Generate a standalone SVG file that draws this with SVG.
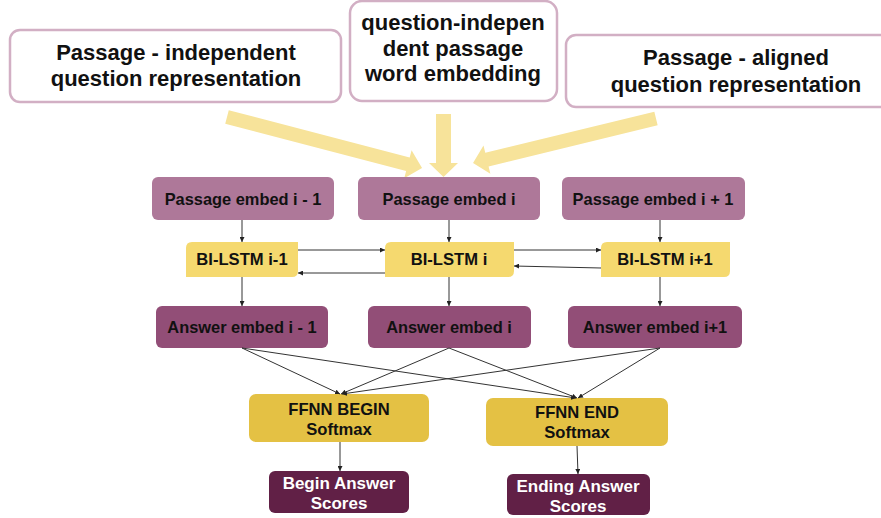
<svg xmlns="http://www.w3.org/2000/svg" width="881" height="518" viewBox="0 0 881 518">
<defs>
<marker id="ah" viewBox="0 0 10 10" refX="10" refY="5" markerWidth="5" markerHeight="5" orient="auto" markerUnits="userSpaceOnUse">
<path d="M0,0 L10,5 L0,10 Z" fill="#222"/>
</marker>
<style>
.top{fill:#fff;stroke:#d2afc4;stroke-width:2.5}
.pe{fill:#ae7899}
.bl{fill:#f5d96f}
.ae{fill:#924e77}
.ff{fill:#e4c144}
.sc{fill:#612046}
.t{font-family:"Liberation Sans",Arial,sans-serif;font-weight:bold;text-anchor:middle;fill:#111}
.tw{fill:#fff}
.big{font-size:22px}
.mid{font-size:16.4px}
.bi{font-size:16.6px}
.scs{font-size:17px}
.conn line{stroke:#333;stroke-width:1}
.ya{fill:#f7e39a}
</style>
</defs>
<rect width="881" height="518" fill="#fff"/>

<g id="top1">
<rect class="top" x="10" y="30" width="331" height="72" rx="10"/>
<text class="t big" x="176" y="60">Passage - independent</text>
<text class="t big" x="176" y="86">question representation</text>
</g>
<g id="top2">
<rect class="top" x="350" y="1" width="207" height="100" rx="12"/>
<text class="t big" x="453" y="30">question-indepen</text>
<text class="t big" x="453" y="56">dent passage</text>
<text class="t big" x="453" y="81">word embedding</text>
</g>
<g id="top3">
<rect class="top" x="566" y="35" width="330" height="72" rx="10"/>
<text class="t big" x="736" y="65">Passage - aligned</text>
<text class="t big" x="736" y="92">question representation</text>
</g>

<g id="bigarrows">
<path class="ya" transform="translate(227,117) rotate(14.66)" d="M0,-7 L187,-7 L187,-14.5 L201.6,0 L187,14.5 L187,7 L0,7 Z"/>
<path class="ya" transform="translate(443.5,114) rotate(90)" d="M0,-7.5 L49,-7.5 L49,-14.5 L63,0 L49,14.5 L49,7.5 L0,7.5 Z"/>
<path class="ya" transform="translate(656,118.5) rotate(166.33)" d="M0,-7 L174,-7 L174,-14.5 L188.3,0 L174,14.5 L174,7 L0,7 Z"/>
</g>

<g id="pe1"><rect class="pe" x="152" y="177" width="182" height="43" rx="6"/><text class="t mid" x="243" y="205">Passage embed i - 1</text></g>
<g id="pe2"><rect class="pe" x="358" y="177" width="182" height="43" rx="6"/><text class="t mid" x="449" y="205">Passage embed i</text></g>
<g id="pe3"><rect class="pe" x="562" y="177" width="183" height="43" rx="6"/><text class="t mid" x="653" y="205">Passage embed i + 1</text></g>

<g id="bl1"><path class="bl" d="M192,242 L298,242 L298,271 Q298,277 292,277 L186,277 L186,248 Q186,242 192,242 Z"/><text class="t bi" x="242" y="265">BI-LSTM i-1</text></g>
<g id="bl2"><path class="bl" d="M391,242 L514,242 L514,271 Q514,277 508,277 L385,277 L385,248 Q385,242 391,242 Z"/><text class="t bi" x="449" y="265">BI-LSTM i</text></g>
<g id="bl3"><path class="bl" d="M607,242 L730,242 L730,271 Q730,277 724,277 L601,277 L601,248 Q601,242 607,242 Z"/><text class="t bi" x="665" y="265">BI-LSTM i+1</text></g>

<g id="ae1"><rect class="ae" x="156" y="306" width="172" height="42" rx="6"/><text class="t mid" x="242" y="333">Answer embed i - 1</text></g>
<g id="ae2"><rect class="ae" x="368" y="306" width="163" height="42" rx="6"/><text class="t mid" x="449" y="333">Answer embed i</text></g>
<g id="ae3"><rect class="ae" x="568" y="306" width="174" height="42" rx="6"/><text class="t mid" x="655" y="333">Answer embed i+1</text></g>

<g id="ffb"><rect class="ff" x="249" y="394" width="180" height="48" rx="7"/><text class="t bi" x="339" y="415">FFNN BEGIN</text><text class="t bi" x="339" y="435">Softmax</text></g>
<g id="ffe"><rect class="ff" x="486" y="398" width="182" height="48" rx="7"/><text class="t bi" x="577" y="418">FFNN END</text><text class="t bi" x="577" y="438">Softmax</text></g>

<g id="scb"><rect class="sc" x="269" y="471" width="140" height="42" rx="6"/><text class="t tw scs" x="339" y="489">Begin Answer</text><text class="t tw scs" x="339" y="509">Scores</text></g>
<g id="sce"><rect class="sc" x="507" y="474" width="143" height="41" rx="6"/><text class="t tw scs" x="578" y="492">Ending Answer</text><text class="t tw scs" x="578" y="512">Scores</text></g>

<g id="connectors" class="conn">
<line x1="242" y1="220" x2="242" y2="242" marker-end="url(#ah)"/>
<line x1="449" y1="220" x2="449" y2="242" marker-end="url(#ah)"/>
<line x1="660" y1="220" x2="660" y2="242" marker-end="url(#ah)"/>
<line x1="242" y1="277" x2="242" y2="306" marker-end="url(#ah)"/>
<line x1="449" y1="277" x2="449" y2="306" marker-end="url(#ah)"/>
<line x1="660" y1="277" x2="660" y2="306" marker-end="url(#ah)"/>
<line x1="298" y1="250" x2="385" y2="250" marker-end="url(#ah)"/>
<line x1="385" y1="273" x2="298" y2="273" marker-end="url(#ah)"/>
<line x1="514" y1="250" x2="601" y2="250" marker-end="url(#ah)"/>
<line x1="601" y1="268" x2="514" y2="266" marker-end="url(#ah)"/>
<line x1="242" y1="348" x2="340" y2="394" marker-end="url(#ah)"/>
<line x1="449" y1="348" x2="341" y2="394" marker-end="url(#ah)"/>
<line x1="660" y1="348" x2="342" y2="394" marker-end="url(#ah)"/>
<line x1="242" y1="348" x2="576" y2="398" marker-end="url(#ah)"/>
<line x1="449" y1="348" x2="577" y2="398" marker-end="url(#ah)"/>
<line x1="660" y1="348" x2="578" y2="398" marker-end="url(#ah)"/>
<line x1="340" y1="442" x2="340" y2="471" marker-end="url(#ah)"/>
<line x1="577" y1="446" x2="578" y2="474" marker-end="url(#ah)"/>
</g>
</svg>
